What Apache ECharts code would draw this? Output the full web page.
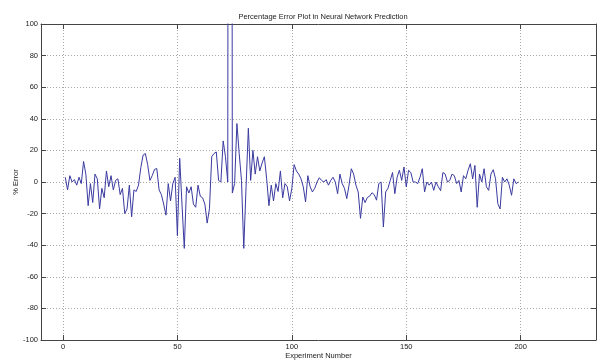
<!DOCTYPE html>
<html><head><meta charset="utf-8">
<script src="https://cdn.jsdelivr.net/npm/echarts@6/dist/echarts.min.js"></script>
<style>html,body{margin:0;padding:0;background:#fff}#c{width:600px;height:363px}</style>
</head><body><div id="c"></div>
<script>
const errorsA = [3,-5,4,0,1.5,-2,3,-1,13,5,-15,-1,-13,5,2,-17,-4,-10,7,-3,4,-5,1,2,-8,-4,-20,-17,-2,-22,
  -5,-6,-2,9,17,18,11,1,4,8,8.5,-5,-8,-14,-21,-1,-12,-1,3,-34,15,-14,-42,-3,-7,-3,-14,-16,-2,-9,
  -10,-14,-26,-17,16,18,19,1,0,26,16,0];
const errorsB = [1500,-7,-1,37,18,1,-42,-3,34,1,20,5,16,7,12,16,2,-15,-2,-12,-1,-6,7,-10,-1,-3,-12,-4,11,7,5,2];
const errorsC = [-3,-12.6,4,-3,-6.3,-4,0,2.7,1,0,1.5,-2,1,3,0,-7.4,5,-1,-4,-10.5,
  -2,8.4,5,-2,-6.3,-23,-9.5,-13,-9.8,-9,-6.8,-8,-11.5,-1,0,-28.5,-6.3,-4,1,6,
  -7.4,3,7.4,1,9.5,-3,7.4,6,0,0,-1,3,8.4,-6.3,0,-2,0,-5.3,0,-3,
  -5.5,6,5,0,1,5,4,-1,1,-6.3,4,2,7.4,11.6,2,10.5,-16,5,0,8.4,
  -3,-5.3,5,7.8,2,-13.7,-17,3,0,2,-2,-8.4,2,-1,0];
const errors = errorsA.concat(errorsB, errorsC);
const firstExperiment = 1;
const xTicks = [0, 50, 100, 150, 200];
const yTicks = [-100, -80, -60, -40, -20, 0, 20, 40, 60, 80, 100];

const seriesData = errors.map((v, i) => [firstExperiment + i, v]);
const FONT = 'Liberation Sans, Arial, sans-serif';
const axisCol = '#444';
const gridLine = {show: true, lineStyle: {color: '#a8a8a8', type: [1, 2], width: 1}};

const chart = echarts.init(document.getElementById('c'), null, {renderer: 'canvas'});
chart.setOption({
  animation: false,
  backgroundColor: '#fff',
  title: {
    text: 'Percentage Error Plot in Neural Network Prediction',
    left: 318, top: 8, textAlign: 'center',
    textStyle: {fontSize: 7.5, fontWeight: 'normal', color: '#222', fontFamily: FONT}
  },
  grid: {left: 41, right: 4, top: 24, bottom: 23, outerBoundsMode: 'none', containLabel: false},
  xAxis: [{
    type: 'value', min: -9.6, max: 232.9, position: 'bottom',
    axisLine: {onZero: false, lineStyle: {color: axisCol}},
    axisTick: {inside: true, length: 5, customValues: xTicks, lineStyle: {color: axisCol}},
    axisLabel: {customValues: xTicks, fontSize: 7.5, color: '#222', margin: 3, fontFamily: FONT},
    splitLine: gridLine,
    name: 'Experiment Number', nameLocation: 'middle', nameGap: 12, nameMoveOverlap: false,
    nameTextStyle: {fontSize: 7.5, color: '#222', fontFamily: FONT}
  }, {
    type: 'value', min: -9.6, max: 232.9, position: 'top',
    axisLine: {onZero: false, lineStyle: {color: axisCol}},
    axisTick: {inside: true, length: 5, customValues: xTicks, lineStyle: {color: axisCol}},
    axisLabel: {show: false}, splitLine: {show: false}
  }],
  yAxis: [{
    type: 'value', min: -100, max: 100, interval: 20, position: 'left',
    axisLine: {show: true, onZero: false, lineStyle: {color: axisCol}},
    axisTick: {show: true, inside: true, length: 5, lineStyle: {color: axisCol}},
    axisLabel: {fontSize: 7.5, color: '#222', margin: 3, fontFamily: FONT,
      customValues: yTicks},
    splitLine: gridLine,
    name: '% Error', nameLocation: 'middle', nameGap: 21, nameMoveOverlap: false,
    nameTextStyle: {fontSize: 7.5, color: '#222', fontFamily: FONT}
  }, {
    type: 'value', min: -100, max: 100, interval: 20, position: 'right',
    axisLine: {show: true, onZero: false, lineStyle: {color: axisCol}},
    axisTick: {show: true, inside: true, length: 5, lineStyle: {color: axisCol}},
    axisLabel: {show: false}, splitLine: {show: false}
  }],
  series: [{
    type: 'line', xAxisIndex: 0, yAxisIndex: 0, data: seriesData,
    showSymbol: false, symbol: 'none', clip: true,
    lineStyle: {color: '#3a3aa0', width: 1}
  }]
});
</script></body></html>
